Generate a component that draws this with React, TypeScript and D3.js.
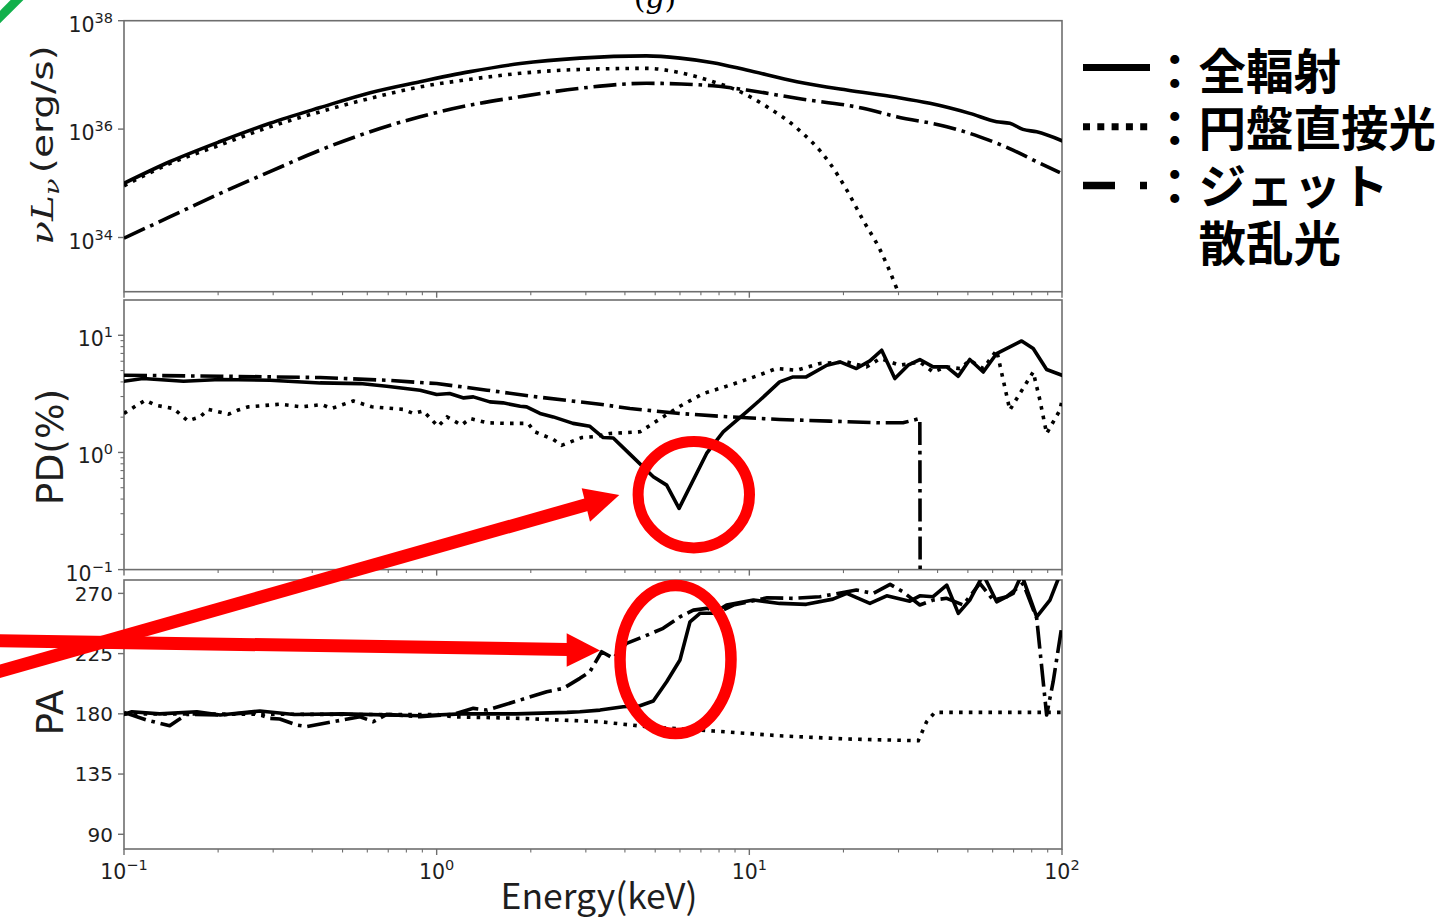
import React from "react";
import * as d3 from "d3";

// ---- data: energy (keV) vs. quantity ----
const LUM_TOTAL: [number, number][] = [
  [0.1, 1.0e35], [0.14, 2.5e35], [0.203, 5.9e35], [0.293, 1.28e36], [0.424, 2.5e36],
  [0.613, 4.7e36], [0.885, 7.5e36], [1.28, 1.15e37], [1.85, 1.62e37], [2.87, 2.04e37],
  [4.69, 2.24e37], [6.0, 2.04e37], [7.65, 1.68e37], [9.8, 1.23e37], [14.2, 7.5e36],
  [20.5, 5.25e36], [29.6, 3.86e36], [37.8, 2.99e36], [50.7, 1.95e36], [61.8, 1.37e36],
  [68.1, 1.28e36], [75, 9.9e35], [83, 8.9e35], [100, 6.1e35],
];
const LUM_DISK: [number, number][] = [
  [0.1, 9.0e34], [0.14, 2.3e35], [0.203, 5.1e35], [0.293, 1.1e36], [0.424, 2.09e36],
  [0.613, 3.7e36], [0.885, 6.0e36], [1.28, 8.3e36], [1.85, 1.07e37], [2.87, 1.26e37],
  [4.69, 1.32e37], [6.0, 1.1e37], [7.65, 7.5e36], [9.1, 5.25e36], [11.4, 2.57e36],
  [14.2, 1.04e36], [18.1, 2.34e35], [20.5, 7.5e34], [23.1, 2.1e34], [26.2, 5.9e33],
  [29.6, 1.15e33], [33, 2.0e32],
];
const LUM_JET: [number, number][] = [
  [0.1, 9.7e33], [0.14, 2.4e34], [0.203, 6.5e34], [0.293, 1.64e35], [0.424, 4.1e35],
  [0.613, 8.95e35], [0.885, 1.69e36], [1.28, 2.78e36], [1.85, 3.96e36], [2.87, 5.66e36],
  [4.69, 7.0e36], [7.65, 6.3e36], [9.8, 5.25e36], [14.2, 3.7e36], [23.1, 2.42e36],
  [29.6, 1.69e36], [42.8, 1.11e36], [54.6, 7.2e35], [69.7, 4.1e35], [85, 2.34e35],
  [98.5, 1.57e35],
];

const PD_TOTAL: [number, number][] = [
  [0.1, 4.05], [0.115, 4.27], [0.155, 4.05], [0.203, 4.19], [0.293, 4.13], [0.424, 3.92],
  [0.569, 3.87], [0.692, 3.67], [0.885, 3.4], [1.0, 3.12], [1.1, 3.18], [1.22, 2.92],
  [1.31, 2.98], [1.48, 2.7], [1.63, 2.65], [1.85, 2.48], [1.94, 2.45], [2.14, 2.15],
  [2.36, 2.01], [2.73, 1.77], [3.09, 1.67], [3.41, 1.34], [3.67, 1.33], [4.15, 0.967],
  [4.93, 0.62], [5.44, 0.526], [5.96, 0.333], [7.3, 0.98], [8.25, 1.5], [9.8, 2.22],
  [10.8, 2.79], [12.5, 4.0], [13.8, 4.41], [15.2, 4.41], [17.7, 5.55], [19.5, 5.92],
  [22.0, 5.2], [24.3, 6.04], [26.5, 7.45], [29.2, 4.27], [32.2, 5.55], [35.1, 6.21],
  [38.7, 5.37], [42.8, 5.37], [46.6, 4.47], [50.7, 6.21], [56.0, 4.86], [61.8, 6.98],
  [74.3, 8.94], [80.9, 7.7], [89.3, 5.1], [100, 4.56],
];
const PD_DISK: [number, number][] = [
  [0.1, 2.15], [0.108, 2.45], [0.117, 2.79], [0.126, 2.53], [0.144, 2.37], [0.16, 1.86],
  [0.175, 2.01], [0.186, 2.33], [0.216, 2.12], [0.232, 2.3], [0.25, 2.45], [0.315, 2.58],
  [0.37, 2.45], [0.429, 2.56], [0.461, 2.37], [0.541, 2.75], [0.62, 2.45], [0.782, 2.33],
  [0.842, 2.15], [0.906, 2.26], [1.01, 1.67], [1.08, 2.01], [1.2, 1.71], [1.28, 1.95],
  [1.45, 1.79], [1.67, 1.77], [1.96, 1.77], [2.06, 1.5], [2.36, 1.29], [2.51, 1.15],
  [2.91, 1.34], [3.17, 1.36], [3.58, 1.45], [4.47, 1.5], [5.3, 2.01], [6.0, 2.48],
  [7.12, 3.18], [8.67, 3.75], [10.5, 4.47], [12.2, 5.2], [14.2, 5.03], [16.8, 5.74],
  [20.5, 5.92], [23.7, 5.37], [26.2, 6.33], [30.3, 5.55], [35.1, 5.92], [38.7, 4.86],
  [42.8, 5.37], [47.1, 5.2], [50.7, 6.12], [56.0, 5.2], [61.8, 7.45], [64.9, 4.13],
  [68.1, 2.3], [73.3, 3.18], [80.9, 4.86], [85, 2.79], [89.3, 1.45], [98.5, 2.3],
  [100, 2.79],
];
// the jet component has zero polarisation above ~35 keV
const PD_JET: [number, number][] = [
  [0.1, 4.56], [0.203, 4.47], [0.424, 4.36], [0.692, 4.13], [1.0, 3.87], [1.45, 3.4],
  [2.09, 2.98], [2.87, 2.7], [3.33, 2.58], [4.15, 2.37], [6.0, 2.15], [8.67, 2.01],
  [12.5, 1.91], [18.1, 1.85], [26.2, 1.79], [31.0, 1.79], [35.1, 1.95], [37, 1e-30],
];

const PA_TOTAL: [number, number][] = [
  [0.1, 179.6], [0.106, 181.6], [0.13, 180], [0.171, 181.6], [0.203, 179.1], [0.272, 182.1],
  [0.35, 179.5], [0.5, 180], [0.885, 178.6], [1.2, 180], [1.8, 180], [2.61, 181.1],
  [2.87, 181.6], [3.33, 182.8], [3.95, 185.3], [4.47, 186.0], [4.93, 189.6], [5.44, 204.0],
  [6.0, 220.2], [6.46, 248.8], [6.95, 255.1], [7.67, 255.1], [8.46, 261.3], [10.3, 265.0],
  [12.5, 262.5], [15.2, 261.8], [18.5, 265.7], [20.5, 270], [24.3, 262.5], [27.5, 268.2],
  [32.6, 264.2], [35.1, 268.2], [38.7, 267.5], [42.8, 276.2], [46.6, 255.1], [50.7, 265.0],
  [56.0, 284], [61.8, 263.7], [69.8, 270], [74.3, 284], [83, 252.5], [91.5, 265],
  [98.5, 284], [100, 290],
];
const PA_DISK: [number, number][] = [
  [0.1, 180], [0.6, 179.5], [1.0, 179.5], [1.13, 177.8], [1.85, 176.6], [3.33, 174.1],
  [4.69, 170.4], [7.67, 167.2], [12.5, 163.6], [20.5, 161.2], [34.7, 159.9], [36.9, 174.1],
  [39.2, 181.1], [100, 181.1],
];
const PA_JET: [number, number][] = [
  [0.1, 181.1], [0.118, 175.4], [0.14, 171.1], [0.149, 175.4], [0.159, 179.6], [0.203, 179.1],
  [0.259, 181.1], [0.293, 176.6], [0.315, 176.1], [0.357, 171.6], [0.384, 170.4], [0.479, 174.6],
  [0.569, 177.8], [0.627, 174.1], [0.692, 179.6], [0.885, 177.8], [1.13, 179.6], [1.31, 184.1],
  [1.45, 182.8], [1.85, 190.3], [2.25, 196.5], [2.54, 199.0], [2.87, 206.5], [3.09, 211.4],
  [3.37, 226.4], [3.67, 221.5], [4.05, 232.7], [4.58, 237.6], [5.3, 243.9], [6.0, 252.5],
  [6.62, 257.5], [7.3, 258.8], [8.05, 256.3], [8.89, 261.3], [11.4, 266.7], [13.8, 266.3],
  [16.8, 267.5], [22.0, 272.5], [24.9, 270], [28.2, 276.7], [31.0, 271.2], [35.1, 261.3],
  [38.7, 265], [42.8, 266.3], [48.3, 261.3], [54.6, 277.5], [60.3, 265], [66.5, 267.5],
  [75.1, 277.5], [83, 251.3], [89.3, 179.1], [93.7, 204.0], [100, 246.3],
];

const ENERGY_MAJOR = [0.1, 1, 10, 100];
const ENERGY_EXP = [-1, 0, 1, 2];
const LUM_TICKS = [1e34, 1e36, 1e38];
const LUM_EXP = [34, 36, 38];
const PD_TICKS = [0.1, 1, 10];
const PD_EXP = [-1, 0, 1];
const PA_TICKS = [90, 135, 180, 225, 270];

const LEGEND_ITEMS = ["：全輻射", "：円盤直接光", "：ジェット"];
const LEGEND_WRAP = "散乱光";

// ---- layout ----
const W = 1439;
const H = 920;
const LEFT = 124;
const RIGHT = 1062;
const TOP_P = { top: 20.7, bottom: 291.7 };
const MID_P = { top: 300, bottom: 569.6 };
const BOT_P = { top: 580, bottom: 849 };

const x = d3.scaleLog().domain([0.1, 100]).range([LEFT, RIGHT]);
const yLum = d3.scaleLog().domain([1e33, 1e38]).range([TOP_P.bottom, TOP_P.top]);
const yPD = d3.scaleLog().domain([0.1, 20]).range([MID_P.bottom, MID_P.top]);
const yPA = d3.scaleLinear().domain([79, 280]).range([BOT_P.bottom, BOT_P.top]);

const LW = 3.6;
const SOLID: React.SVGProps<SVGPathElement> = {
  fill: "none", stroke: "#000", strokeWidth: LW, strokeLinejoin: "round", strokeLinecap: "square",
};
const DOTTED: React.SVGProps<SVGPathElement> = {
  fill: "none", stroke: "#000", strokeWidth: LW, strokeDasharray: "3.6 6.2", strokeLinecap: "butt",
};
const DASHDOT: React.SVGProps<SVGPathElement> = {
  fill: "none", stroke: "#000", strokeWidth: LW, strokeDasharray: "23 5.8 3.6 5.8",
  strokeLinecap: "butt", strokeLinejoin: "round",
};

const SPINE = "#6e6e6e";
const TICK_FONT = "DejaVu Sans, sans-serif";
const LABEL_COLOR = "#1e1e1e";
const CJK_FONT = "Noto Sans CJK JP, sans-serif";

function makePath(data: [number, number][], y: (v: number) => number, curve: d3.CurveFactory) {
  return d3
    .line<[number, number]>()
    .x((d) => x(d[0]))
    .y((d) => y(d[1]))
    .curve(curve)(data) as string;
}

function supText(exp: number) {
  return exp < 0 ? "\u2212" + String(-exp) : String(exp);
}

function minorEnergyTicks(): number[] {
  const out: number[] = [];
  for (const dec of [0.1, 1, 10]) for (let m = 2; m <= 9; m++) out.push(dec * m);
  return out;
}

function minorPDTicks(): number[] {
  const out: number[] = [];
  for (const dec of [0.1, 1]) for (let m = 2; m <= 9; m++) out.push(dec * m);
  return out;
}

function Frame({ top, bottom }: { top: number; bottom: number }) {
  return (
    <g>
      <rect x={LEFT} y={top} width={RIGHT - LEFT} height={bottom - top} fill="none" stroke={SPINE} strokeWidth={1.6} />
      {ENERGY_MAJOR.map((v) => (
        <line key={"M" + v} x1={x(v)} x2={x(v)} y1={bottom} y2={bottom + 6} stroke={SPINE} strokeWidth={1.4} />
      ))}
      {minorEnergyTicks().map((v) => (
        <line key={"m" + v} x1={x(v)} x2={x(v)} y1={bottom} y2={bottom + 3.5} stroke={SPINE} strokeWidth={1.1} />
      ))}
    </g>
  );
}

function YTickPow({ y, exp }: { y: number; exp: number }) {
  return (
    <g>
      <line x1={LEFT - 6} x2={LEFT} y1={y} y2={y} stroke={SPINE} strokeWidth={1.4} />
      <text x={113} y={y + 11} textAnchor="end" fontFamily={TICK_FONT} fontSize={20.5} fill={LABEL_COLOR}>
        <tspan>10</tspan>
        <tspan dy={-9} fontSize={14.5}>{supText(exp)}</tspan>
      </text>
    </g>
  );
}

export default function App() {
  const curveSmooth = d3.curveMonotoneX;
  const curveLin = d3.curveLinear;

  return (
    <svg
      width={W}
      height={H}
      viewBox={`0 0 ${W} ${H}`}
      style={{ position: "absolute", left: 0, top: 0, display: "block", background: "#fff" }}
    >
      <defs>
        <clipPath id="clipTop">
          <rect x={LEFT} y={TOP_P.top} width={RIGHT - LEFT} height={TOP_P.bottom - TOP_P.top} />
        </clipPath>
        <clipPath id="clipMid">
          <rect x={LEFT} y={MID_P.top} width={RIGHT - LEFT} height={MID_P.bottom - MID_P.top} />
        </clipPath>
        <clipPath id="clipBot">
          <rect x={LEFT} y={BOT_P.top} width={RIGHT - LEFT} height={BOT_P.bottom - BOT_P.top} />
        </clipPath>
      </defs>
      <rect x={0} y={0} width={W} height={H} fill="#fff" />

      {/* corner mark and panel caption */}
      <line x1={-4} y1={21} x2={22} y2={-5} stroke="#12b04c" strokeWidth={9} />
      <text x={655} y={8} textAnchor="middle" fontFamily="DejaVu Serif, serif" fontSize={30} fill="#000">
        <tspan>(</tspan>
        <tspan fontStyle="italic">g</tspan>
        <tspan>)</tspan>
      </text>

      {/* ---- panel 1: spectrum ---- */}
      <Frame top={TOP_P.top} bottom={TOP_P.bottom} />
      {LUM_TICKS.map((v, i) => (
        <YTickPow key={v} y={yLum(v)} exp={LUM_EXP[i]} />
      ))}
      <g clipPath="url(#clipTop)">
        <path d={makePath(LUM_JET, yLum, curveSmooth)} {...DASHDOT} />
        <path d={makePath(LUM_DISK, yLum, curveSmooth)} {...DOTTED} />
        <path d={makePath(LUM_TOTAL, yLum, curveSmooth)} {...SOLID} />
      </g>
      <text
        transform={`translate(53,145) rotate(-90) scale(1.3,1)`}
        textAnchor="middle"
        fontSize={30}
        fill={LABEL_COLOR}
      >
        <tspan fontFamily="DejaVu Serif, serif" fontStyle="italic">νL</tspan>
        <tspan fontFamily="DejaVu Serif, serif" fontStyle="italic" fontSize={21} dy={6}>ν</tspan>
        <tspan fontFamily={TICK_FONT} dy={-6} dx={4}>(erg/s)</tspan>
      </text>

      {/* ---- panel 2: polarisation degree ---- */}
      <Frame top={MID_P.top} bottom={MID_P.bottom} />
      {minorPDTicks().map((v) => (
        <line key={"pdm" + v} x1={LEFT - 3.5} x2={LEFT} y1={yPD(v)} y2={yPD(v)} stroke={SPINE} strokeWidth={1.1} />
      ))}
      {PD_TICKS.map((v, i) => (
        <YTickPow key={v} y={yPD(v)} exp={PD_EXP[i]} />
      ))}
      <g clipPath="url(#clipMid)">
        <path d={makePath(PD_JET, yPD, curveLin)} {...DASHDOT} />
        <path d={makePath(PD_DISK, yPD, curveLin)} {...DOTTED} />
        <path d={makePath(PD_TOTAL, yPD, curveLin)} {...SOLID} />
      </g>
      <text
        transform={`translate(63,447) rotate(-90)`}
        textAnchor="middle"
        fontFamily={TICK_FONT}
        fontSize={37.5}
        fill={LABEL_COLOR}
      >
        PD(%)
      </text>

      {/* ---- panel 3: polarisation angle ---- */}
      <Frame top={BOT_P.top} bottom={BOT_P.bottom} />
      {PA_TICKS.map((v) => (
        <g key={"pa" + v}>
          <line x1={LEFT - 6} x2={LEFT} y1={yPA(v)} y2={yPA(v)} stroke={SPINE} strokeWidth={1.4} />
          <text x={113} y={yPA(v) + 7.3} textAnchor="end" fontFamily={TICK_FONT} fontSize={20} fill={LABEL_COLOR}>
            {v}
          </text>
        </g>
      ))}
      <g clipPath="url(#clipBot)">
        <path d={makePath(PA_JET, yPA, curveLin)} {...DASHDOT} />
        <path d={makePath(PA_DISK, yPA, curveLin)} {...DOTTED} />
        <path d={makePath(PA_TOTAL, yPA, curveLin)} {...SOLID} />
      </g>
      <text
        transform={`translate(63,712.5) rotate(-90)`}
        textAnchor="middle"
        fontFamily={TICK_FONT}
        fontSize={37.5}
        fill={LABEL_COLOR}
      >
        PA
      </text>

      {/* shared energy axis labels */}
      {ENERGY_MAJOR.map((v, i) => (
        <text key={"xl" + v} x={x(v)} y={879} textAnchor="middle" fontFamily={TICK_FONT} fontSize={20.5} fill={LABEL_COLOR}>
          <tspan>10</tspan>
          <tspan dy={-9} fontSize={14.5}>{supText(ENERGY_EXP[i])}</tspan>
        </text>
      ))}
      <text x={599} y={909} textAnchor="middle" fontFamily={CJK_FONT} fontSize={35.5} fill={LABEL_COLOR}>
        Energy(keV)
      </text>

      {/* ---- legend ---- */}
      <g>
        <line x1={1083} x2={1150} y1={67.5} y2={67.5} stroke="#000" strokeWidth={7} />
        <line x1={1083} x2={1152} y1={126.7} y2={126.7} stroke="#000" strokeWidth={7} strokeDasharray="7 7.3" />
        <line x1={1083} x2={1115} y1={185.5} y2={185.5} stroke="#000" strokeWidth={7.5} />
        <line x1={1140} x2={1147} y1={185.5} y2={185.5} stroke="#000" strokeWidth={7.5} />
        {LEGEND_ITEMS.map((t, i) => (
          <text
            key={t}
            x={1151}
            y={[89, 146, 203.5][i]}
            fontFamily={CJK_FONT}
            fontWeight={700}
            fontSize={47.5}
            fill="#000"
          >
            {t}
          </text>
        ))}
        <text x={1198.5} y={261} fontFamily={CJK_FONT} fontWeight={700} fontSize={47.5} fill="#000">
          {LEGEND_WRAP}
        </text>
      </g>

      {/* ---- red call-outs ---- */}
      <g fill="none" stroke="#ff0000">
        <line x1={-10} y1={674} x2={587} y2={504.5} strokeWidth={13} />
        <line x1={-10} y1={640.5} x2={568} y2={649.5} strokeWidth={13} />
        <ellipse cx={693.8} cy={494.7} rx={55.7} ry={53.2} strokeWidth={11} />
        <ellipse cx={675.5} cy={659.5} rx={55.5} ry={74} strokeWidth={11.5} />
      </g>
      <g fill="#ff0000">
        <polygon points="619.3,495 581.7,488.3 590,521.7" />
        <polygon points="600,650.5 566.7,633.3 566.7,666.7" />
      </g>
    </svg>
  );
}
